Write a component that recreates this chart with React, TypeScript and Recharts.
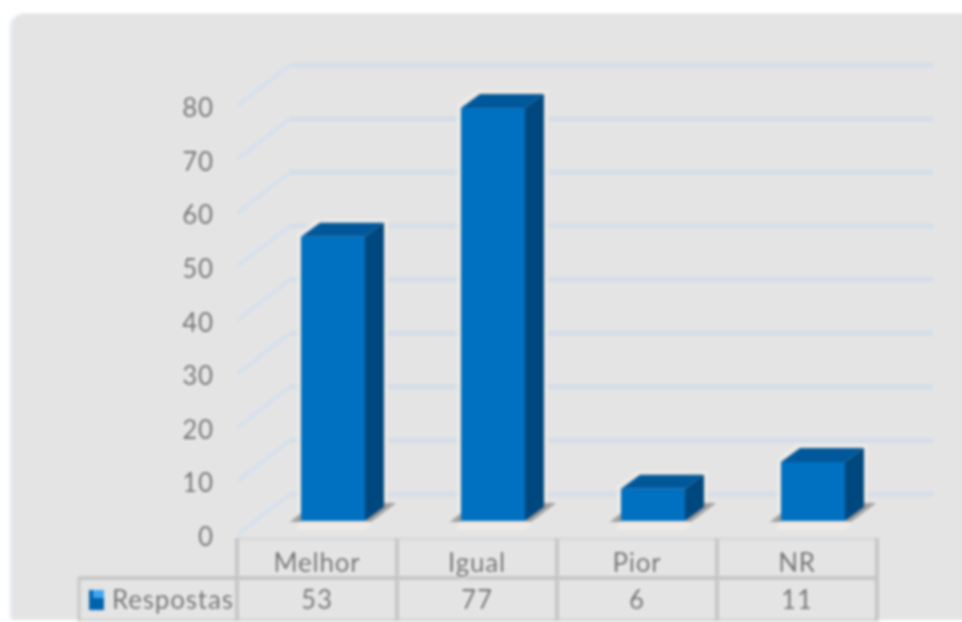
import React from "react";
import { BarChart, Bar, XAxis, YAxis, CartesianGrid } from "recharts";

const categories = ["Melhor", "Igual", "Pior", "NR"];
const respostas = [53, 77, 6, 11];
const yTicks = [0, 10, 20, 30, 40, 50, 60, 70, 80];
const seriesName = "Respostas";
const rows = categories.map((name, i) => ({ name, value: respostas[i] }));

const TEXT = "#6f6f6f";
const LINE = "#c6c6c6";
const PLOT_LEFT = 237;
const PLOT_RIGHT = 877;
const WALL_X = 290;
const WALL_RIGHT = 933;

const textStyle: any = {
  fontFamily: "Lato, 'Open Sans', sans-serif",
  fontSize: 26,
  letterSpacing: 0.8,
  fill: TEXT,
  stroke: "#eeeeee",
  strokeWidth: 3,
  paintOrder: "stroke",
};

function GridLine(props: any) {
  const y = props.y1;
  return (
    <g key={props.key}>
      <polyline
        points={`${PLOT_LEFT},${y + 14} ${WALL_X},${y - 27}`}
        fill="none"
        stroke="#d6e0ec"
        strokeWidth={4}
      />
      <line x1={WALL_X} x2={WALL_RIGHT} y1={y - 27} y2={y - 27} stroke="#d4dde8" strokeWidth={5} />
    </g>
  );
}

function Bar3D(props: any) {
  const { x, y, width, height } = props;
  const fx = x + 16;
  const fr = fx + width;
  const b = y + height;
  const dx = 19;
  const dy = 14;
  return (
    <g>
      <polygon
        points={`${fx - 4},${y - 3} ${fx + dx - 3},${y - dy - 4} ${fr + dx + 4},${y - dy - 4} ${fr + dx + 4},${b - dy} ${fr},${b + 9} ${fx - 4},${b + 9}`}
        fill="#efeae6"
      />
      <polygon points={`${fr},${b} ${fr + dx},${b - 18} ${fr + dx + 12},${b - 18} ${fr + 6},${b + 1}`} fill="#a19f9d" />
      <polygon points={`${fx},${b + 1} ${fx - 11},${b + 1} ${fx},${b - 8}`} fill="#a19f9d" />
      <polygon points={`${fx},${y} ${fx + dx},${y - dy} ${fr + dx},${y - dy} ${fr},${y}`} fill="#00589a" />
      <polygon points={`${fr},${y} ${fr + dx},${y - dy} ${fr + dx},${b - dy} ${fr},${b}`} fill="#00477e" />
      <rect x={fx} y={y} width={width} height={height} fill="#0070c0" />
    </g>
  );
}

function YTick(props: any) {
  return (
    <text x={214} y={props.y + 25} textAnchor="end" style={textStyle}>
      {props.payload.value}
    </text>
  );
}

function TableCell(props: any) {
  const { x, index } = props;
  const right = x + 80;
  return (
    <g>
      {index === 0 && (
        <g>
          <line x1={PLOT_LEFT} x2={PLOT_RIGHT} y1={539} y2={539} stroke="#d9d9d9" strokeWidth={3} />
          <line x1={78} x2={PLOT_RIGHT} y1={578} y2={578} stroke={LINE} strokeWidth={4} />
          <line x1={78} x2={PLOT_RIGHT} y1={620} y2={620} stroke="#d4d4d4" strokeWidth={3} />
          <line x1={79} x2={79} y1={578} y2={621} stroke={LINE} strokeWidth={3} />
          <line x1={PLOT_LEFT} x2={PLOT_LEFT} y1={538} y2={621} stroke={LINE} strokeWidth={4} />
          <rect x={89} y={590} width={15} height={20} fill="#0062ad" />
          <rect x={93} y={590} width={11} height={8} fill="#3ea6f0" />
          <text x={112} y={609} style={textStyle}>
            {seriesName}
          </text>
        </g>
      )}
      <line x1={right} x2={right} y1={538} y2={621} stroke={LINE} strokeWidth={4} />
      <text x={x} y={572} textAnchor="middle" style={textStyle}>
        {props.payload.value}
      </text>
      <text x={x} y={609} textAnchor="middle" style={textStyle}>
        {respostas[index]}
      </text>
    </g>
  );
}

export default function App() {
  return (
    <div style={{ position: "absolute", left: 0, top: 0, width: 962, height: 622, overflow: "hidden", background: "#ffffff" }}>
      <div style={{ position: "absolute", inset: 0, filter: "blur(1.5px)" }}>
        <div
          style={{
            position: "absolute",
            left: 12,
            top: 14,
            width: 970,
            height: 606,
            background: "#e4e4e4",
            borderRadius: "14px 0 0 0",
            boxShadow: "-3px -1px 0 #ecf0f6",
          }}
        />
        <div style={{ position: "absolute", left: 0, top: 0 }}>
          <BarChart
            width={962}
            height={622}
            data={rows}
            barSize={64}
            margin={{ top: 92, right: 85, bottom: 0, left: 157 }}
          >
            <CartesianGrid horizontal={GridLine as any} vertical={false} />
            <XAxis
              dataKey="name"
              height={101}
              axisLine={false}
              tickLine={false}
              interval={0}
              tick={TableCell as any}
            />
            <YAxis
              width={80}
              domain={[0, 80]}
              ticks={yTicks}
              axisLine={false}
              tickLine={false}
              tick={YTick as any}
            />
            <Bar dataKey="value" name={seriesName} shape={Bar3D as any} isAnimationActive={false} />
          </BarChart>
        </div>
      </div>
    </div>
  );
}
